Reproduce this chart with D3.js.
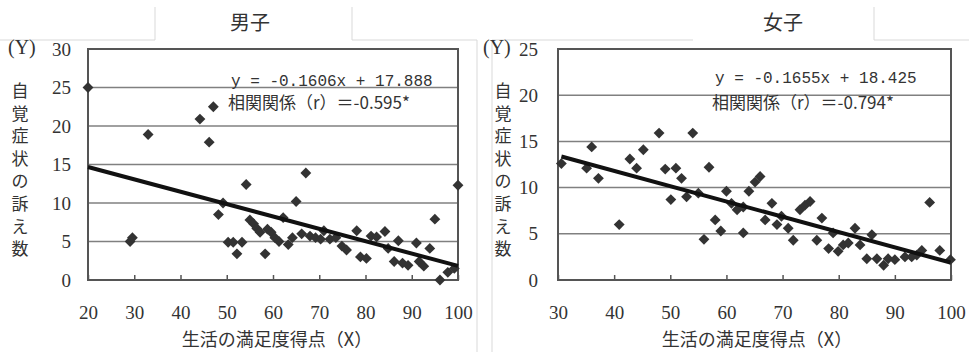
<!DOCTYPE html>
<html>
<head>
<meta charset="utf-8">
<script src="https://cdn.jsdelivr.net/npm/d3@7"></script>
<style>
  body { margin: 0; background: #fff; }
  .num { font-family: "Liberation Serif", serif; fill: #333; }
  .jp { font-family: "Noto Sans CJK JP", sans-serif; fill: #333; }
  .mono { font-family: "Liberation Mono", monospace; fill: #333; }
</style>
</head>
<body>
<div id="chart"></div>
<script>
// data
var boysX = [20, 29.1, 29.6, 33, 44.2, 46.2, 47.1, 48.2, 49.2, 50.3, 51.4, 52.2, 53.3, 54.2, 55, 55.8, 56.5, 57.2,
  58.3, 58.8, 59.6, 60.4, 61.3, 62.2, 63.3, 64.2, 65, 66.2, 67.1, 68, 69.2, 70.3, 71, 72.3, 73.6, 74.9, 75.9,
  78.1, 78.9, 80.2, 81.2, 82.4, 84.2, 84.9, 86.2, 87.1, 88, 89.2, 91, 91.6, 92.6, 93.9, 95, 96.1, 97.8, 99.2, 100];
var boysY = [25, 5.0, 5.5, 18.9, 20.9, 17.9, 22.5, 8.5, 10, 4.9, 4.9, 3.4, 4.9, 12.4, 7.8, 7.3, 6.7, 6.2,
  3.4, 6.6, 6.2, 5.5, 5.0, 8.1, 4.6, 5.5, 10.2, 6.0, 13.9, 5.7, 5.5, 5.3, 6.4, 5.3, 5.5, 4.4, 3.9,
  6.4, 3.0, 2.8, 5.7, 5.6, 6.3, 4.1, 2.4, 5.1, 2.2, 1.9, 4.8, 2.4, 1.8, 4.1, 7.9, 0, 1.0, 1.5, 12.3];

var girlsX = [30.6, 35.1, 36, 37.2, 40.9, 42.8, 44, 45.2, 48, 49.1, 50.1, 51, 52, 52.9, 54, 55, 56, 56.9, 58, 59,
  60, 60.9, 61.9, 63, 63, 64, 65.1, 66, 66.9, 68.1, 69, 69.8, 71, 71.9, 73.1, 74, 74.9, 76.1, 77, 78.2, 79,
  79.9, 80.8, 81.7, 82.9, 83.8, 85, 85.9, 86.8, 88, 88.8, 90, 91.8, 93, 93.9, 94.8, 96.2, 98, 99.9];
var girlsY = [12.6, 12.1, 14.4, 11.0, 6.0, 13.1, 12.1, 14.1, 15.9, 12.0, 8.7, 12.1, 11.0, 9.0, 15.9, 9.4, 4.4, 12.2, 6.5, 5.3,
  9.6, 8.3, 7.6, 5.1, 7.9, 9.6, 10.6, 11.2, 6.5, 8.3, 6.0, 6.9, 5.6, 4.3, 7.6, 8.1, 8.5, 4.3, 6.7, 3.4, 5.1,
  3.1, 3.8, 4.0, 5.6, 3.8, 2.3, 4.9, 2.3, 1.6, 2.3, 2.2, 2.5, 2.5, 2.7, 3.2, 8.4, 3.2, 2.2];

var boysXTicks = [20, 30, 40, 50, 60, 70, 80, 90, 100];
var boysYTicks = [0, 5, 10, 15, 20, 25, 30];
var girlsXTicks = [30, 40, 50, 60, 70, 80, 90, 100];
var girlsYTicks = [0, 5, 10, 15, 20, 25];

var boysFit = [-0.1606, 17.888];
var girlsFit = [-0.1655, 18.425];

var titles = ["男子", "女子"];
var eqTexts = ["y = -0.1606x + 17.888", "y = -0.1655x + 18.425"];
var rTexts = ["相関関係（r）＝-0.595*", "相関関係（r）＝-0.794*"];
var yLabel = "自覚症状の訴え数";
var xLabel = "生活の満足度得点（X）";

var svg = d3.select("#chart").append("svg")
  .attr("width", 969)
  .attr("height", 352);

// light panel frames
var frame = "#d9d9d9";
[[0, 40, 155, 40], [155, 40, 155, 7], [352, 7, 352, 40], [352, 40, 477, 40], [477, 40, 477, 352],
 [492, 40, 492, 352], [492, 40, 693, 40], [874, 7, 874, 40], [874, 40, 969, 40]].forEach(function(l) {
  svg.append("line")
    .attr("x1", l[0]).attr("y1", l[1]).attr("x2", l[2]).attr("y2", l[3])
    .attr("stroke", frame).attr("stroke-width", 1);
});

function panel(o) {
  var x = d3.scaleLinear().domain(o.xDomain).range([o.left, o.right]);
  var y = d3.scaleLinear().domain(o.yDomain).range([280, 49]);

  // gridlines
  svg.append("g").selectAll("line")
    .data(o.yTicks.filter(function(d) { return d > o.yDomain[0] && d < o.yDomain[1]; }))
    .enter().append("line")
      .attr("x1", o.left).attr("x2", o.right)
      .attr("y1", function(d) { return y(d); })
      .attr("y2", function(d) { return y(d); })
      .attr("stroke", "#808080")
      .attr("stroke-width", 1.5);

  // x axis, ticks pointing inward
  var xAxis = svg.append("g")
    .attr("transform", "translate(0,280)")
    .call(d3.axisBottom(x).tickValues(o.xTicks).tickSize(-5).tickPadding(26).tickFormat(d3.format("d")));
  xAxis.select(".domain").remove();
  xAxis.selectAll("line").attr("stroke", "#555").attr("stroke-width", 1.5);
  xAxis.selectAll("text").attr("class", "num").attr("font-size", 19).attr("fill", "#333");

  // y axis labels
  var yAxis = svg.append("g")
    .attr("transform", "translate(" + o.yLabelX + ",0)")
    .call(d3.axisLeft(y).tickValues(o.yTicks).tickSize(0).tickPadding(0));
  yAxis.select(".domain").remove();
  yAxis.selectAll("text").attr("class", "num").attr("font-size", 19).attr("fill", "#333");

  // plot border
  svg.append("rect")
    .attr("x", o.left).attr("y", 49)
    .attr("width", o.right - o.left).attr("height", 231)
    .attr("fill", "none")
    .attr("stroke", "#555")
    .attr("stroke-width", 2);

  // points
  var pts = o.xs.map(function(d, i) { return [d, o.ys[i]]; });
  svg.append("g").selectAll("path")
    .data(pts)
    .enter().append("path")
      .attr("d", d3.symbol().type(d3.symbolDiamond2).size(75))
      .attr("transform", function(d) { return "translate(" + x(d[0]) + "," + y(d[1]) + ")"; })
      .attr("fill", "#333");

  // regression line
  var x0 = d3.min(o.xs), x1 = d3.max(o.xs);
  svg.append("line")
    .attr("x1", x(x0)).attr("y1", y(o.fit[0] * x0 + o.fit[1]))
    .attr("x2", x(x1)).attr("y2", y(o.fit[0] * x1 + o.fit[1]))
    .attr("stroke", "#111")
    .attr("stroke-width", 4);

  // texts
  svg.append("text").attr("class", "jp")
    .attr("x", o.titleX).attr("y", 30)
    .attr("text-anchor", "middle").attr("font-size", 20)
    .text(o.title);

  svg.append("text").attr("class", "mono")
    .attr("x", o.eqX).attr("y", o.eqY)
    .attr("font-size", 16)
    .text(o.eq);
  svg.append("text").attr("class", "jp")
    .attr("x", o.eqX - 3).attr("y", 109)
    .attr("font-size", 17)
    .text(o.r);

  svg.append("text").attr("class", "num")
    .attr("x", o.yTagX).attr("y", 54)
    .attr("font-size", 20)
    .text("(Y)");

  svg.append("g").selectAll("text")
    .data(yLabel.split(""))
    .enter().append("text")
      .attr("class", "jp")
      .attr("x", o.vLabelX)
      .attr("y", function(d, i) { return 97 + i * 22.6; })
      .attr("text-anchor", "middle")
      .attr("font-size", 17)
      .text(function(d) { return d; });

  svg.append("text").attr("class", "jp")
    .attr("x", o.xLabelX).attr("y", 346)
    .attr("text-anchor", "middle").attr("font-size", 18)
    .text(xLabel);
}

panel({
  left: 88, right: 458, xDomain: [20, 100], yDomain: [0, 30],
  xTicks: boysXTicks, yTicks: boysYTicks, xs: boysX, ys: boysY, fit: boysFit,
  title: titles[0], titleX: 250, eq: eqTexts[0], r: rTexts[0], eqX: 231, eqY: 86,
  yLabelX: 71, yTagX: 8, vLabelX: 20, xLabelX: 277
});

panel({
  left: 558, right: 951, xDomain: [30, 100], yDomain: [0, 25],
  xTicks: girlsXTicks, yTicks: girlsYTicks, xs: girlsX, ys: girlsY, fit: girlsFit,
  title: titles[1], titleX: 783, eq: eqTexts[1], r: rTexts[1], eqX: 715, eqY: 83,
  yLabelX: 538, yTagX: 483, vLabelX: 503, xLabelX: 757
});
</script>
</body>
</html>
